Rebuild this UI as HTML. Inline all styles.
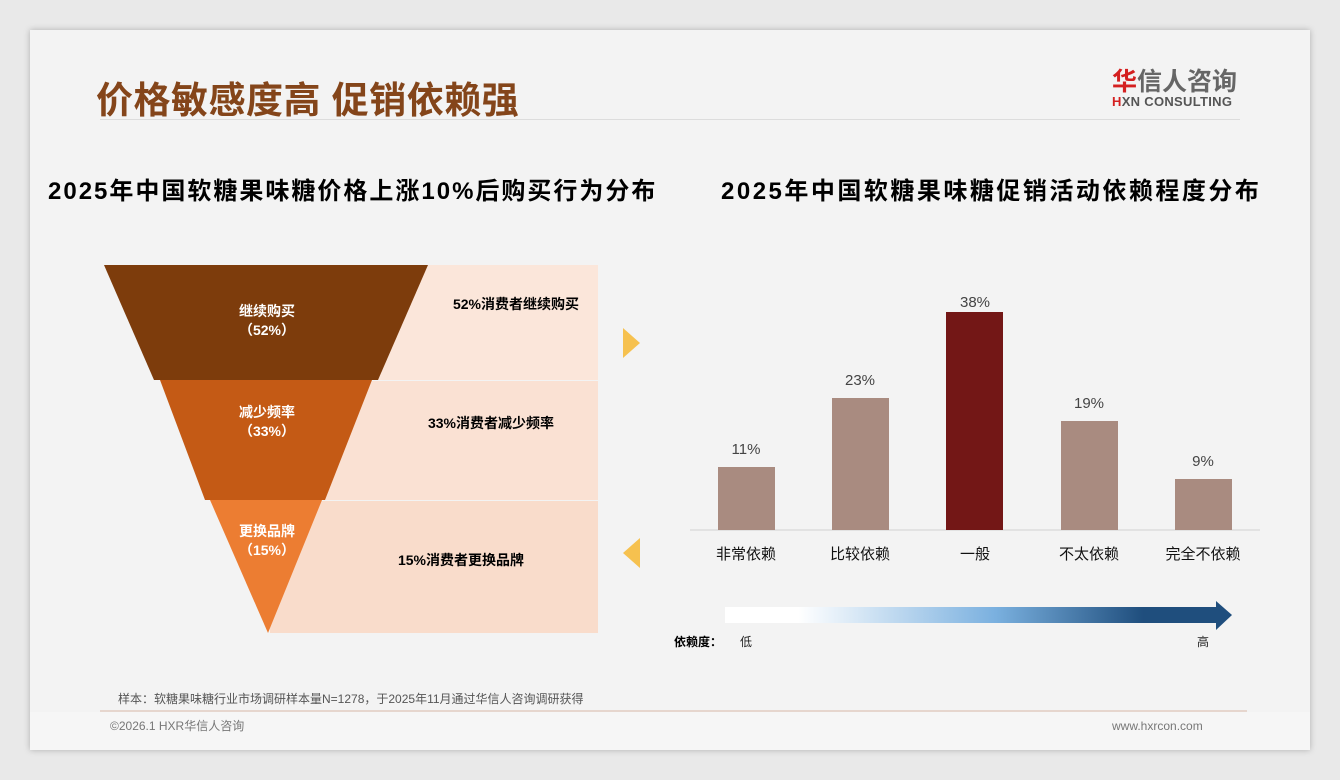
<!DOCTYPE html>
<html><head><meta charset="utf-8"><style>
body{margin:0;width:1340px;height:780px;background:#e9e9e9;font-family:"Liberation Sans","Noto Sans CJK SC",sans-serif;overflow:hidden;position:relative}
.card{position:absolute;left:30px;top:30px;width:1280px;height:720px;background:#f3f3f3;box-shadow:0 0 6px rgba(0,0,0,.25)}
.t{position:absolute;white-space:nowrap}
</style></head><body>
<div class="card"></div>
<div class="t" style="left:96px;top:70px;font-size:37px;font-weight:bold;color:#84451a;letter-spacing:0.5px">价格敏感度高 促销依赖强</div>
<div style="position:absolute;left:100px;top:119px;width:1140px;height:1px;background:#dcdcdc"></div>
<div class="t" style="left:1112px;top:62px;font-size:25px;color:#666;font-weight:bold"><span style="color:#d42020">华</span>信人咨询</div>
<div class="t" style="left:1112px;top:94px;font-size:13px;color:#555;font-weight:bold;letter-spacing:0.3px"><span style="color:#d42020">H</span>XN CONSULTING</div>
<div class="t" style="left:48px;top:171px;font-size:24px;font-weight:bold;color:#000;letter-spacing:2px">2025年中国软糖果味糖价格上涨10%后购买行为分布</div>
<div class="t" style="left:721px;top:171px;font-size:24px;font-weight:bold;color:#000;letter-spacing:2.5px">2025年中国软糖果味糖促销活动依赖程度分布</div>
<svg width="1340" height="780" style="position:absolute;left:0;top:0" font-family="Liberation Sans, Noto Sans CJK SC, sans-serif">
<defs><linearGradient id="g" x1="0" x2="1"><stop offset="0" stop-color="#fff"/><stop offset="0.15" stop-color="#fff"/><stop offset="0.55" stop-color="#7ab0df"/><stop offset="0.85" stop-color="#1f4e7d"/><stop offset="1" stop-color="#1f4e7d"/></linearGradient></defs>
<rect x="270" y="265" width="328" height="115" fill="#fbe6da"/>
<rect x="270" y="381" width="328" height="119" fill="#fae1d3"/>
<rect x="270" y="501" width="328" height="132" fill="#f9dccb"/>
<polygon points="104,265 428,265 378,380 154,380" fill="#7d3c0c"/>
<polygon points="160,380 372,380 325,500 205,500" fill="#c45a15"/>
<polygon points="210,500 322,500 268,633" fill="#ec7d32"/>
<g font-size="14" font-weight="bold" fill="#fff" text-anchor="middle">
<text x="267" y="316">继续购买</text><text x="267" y="335">（52%）</text>
<text x="267" y="417">减少频率</text><text x="267" y="436">（33%）</text>
<text x="267" y="536">更换品牌</text><text x="267" y="555">（15%）</text></g>
<g font-size="14" font-weight="bold" fill="#000" text-anchor="middle">
<text x="516" y="309">52%消费者继续购买</text>
<text x="491" y="428">33%消费者减少频率</text>
<text x="461" y="565">15%消费者更换品牌</text></g>
<polygon points="623,328 640,343 623,358" fill="#f6c14f"/>
<polygon points="640,538 623,553 640,568" fill="#f6c14f"/>
<line x1="690" y1="530" x2="1260" y2="530" stroke="#d0d0d0"/>
<g fill="#a98b80"><rect x="718" y="467" width="57" height="63"/><rect x="832" y="398" width="57" height="132"/><rect x="1061" y="421" width="57" height="109"/><rect x="1175" y="479" width="57" height="51"/></g>
<rect x="946" y="312" width="57" height="218" fill="#731716"/>
<g font-size="15" fill="#444" text-anchor="middle">
<text x="746" y="454">11%</text><text x="860" y="385">23%</text><text x="975" y="307">38%</text><text x="1089" y="408">19%</text><text x="1203" y="466">9%</text></g>
<g font-size="15" fill="#111" text-anchor="middle">
<text x="746" y="559">非常依赖</text><text x="860" y="559">比较依赖</text><text x="975" y="559">一般</text><text x="1089" y="559">不太依赖</text><text x="1203" y="559">完全不依赖</text></g>
<rect x="725" y="607" width="492" height="16" fill="url(#g)"/>
<polygon points="1216,601 1232,615 1216,630" fill="#1f4e7d"/>
<text x="674" y="646" font-size="12" font-weight="bold" fill="#000">依赖度：</text>
<text x="740" y="646" font-size="12" fill="#222">低</text>
<text x="1197" y="646" font-size="12" fill="#222">高</text>
<text x="118" y="703" font-size="12" fill="#555">样本：软糖果味糖行业市场调研样本量N=1278，于2025年11月通过华信人咨询调研获得</text>
<rect x="30" y="712" width="1280" height="38" fill="#f6f6f6"/>
<line x1="100" y1="711" x2="1247" y2="711" stroke="#d9b8a8"/>
<text x="110" y="730" font-size="12" fill="#777">©2026.1 HXR华信人咨询</text>
<text x="1112" y="730" font-size="12" fill="#777">www.hxrcon.com</text>
</svg>
</body></html>
